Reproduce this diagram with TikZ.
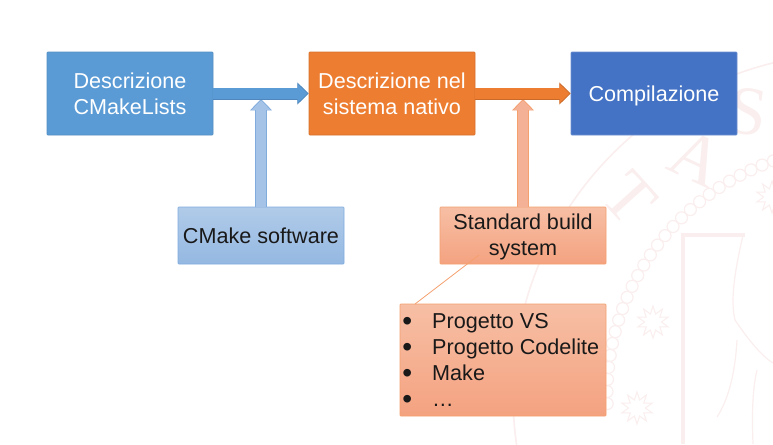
\documentclass[tikz,border=0pt]{standalone}
\usepackage{fontspec}
\setmainfont{Liberation Sans}
\newfontfamily\sealfont{Liberation Serif}
\usetikzlibrary{arrows.meta,shapes.geometric}
\definecolor{descrBlue}{HTML}{5B9BD5}
\definecolor{descrBlueDark}{HTML}{4F87BC}
\definecolor{softBlueTop}{HTML}{B1CBE9}
\definecolor{softBlueBot}{HTML}{94B8E2}
\definecolor{softBlueShaft}{HTML}{A4C3E7}
\definecolor{softBlueLine}{HTML}{7FABDD}
\definecolor{nativeOrange}{HTML}{ED7D31}
\definecolor{nativeOrangeDark}{HTML}{C96A2A}
\definecolor{softOrangeTop}{HTML}{F7BFA5}
\definecolor{softOrangeBot}{HTML}{F4A280}
\definecolor{softOrangeShaft}{HTML}{F5B196}
\definecolor{softOrangeLine}{HTML}{F4A06F}
\definecolor{compBlue}{HTML}{4472C4}
\definecolor{compBlueLine}{HTML}{6D8FCF}
\definecolor{sealPink}{HTML}{FAEEEE}
\newcommand{\listdot}{\raisebox{-1.6pt}{\scalebox{1.3}{\textbullet}}}
\tikzset{
  stagebox/.style={draw, text=white, minimum width=124.5pt, minimum height=62.25pt, inner sep=0pt, align=center, font=\fontsize{16.2}{19.5}\selectfont, rounded corners=.5pt},
  softblue/.style={draw=softBlueLine, top color=softBlueTop, bottom color=softBlueBot, text=black!90, minimum width=124.5pt, minimum height=42.75pt, inner sep=0pt, align=center, font=\fontsize{16.2}{19.5}\selectfont, rounded corners=.5pt},
  softorange/.style={softblue, draw=softOrangeLine, top color=softOrangeTop, bottom color=softOrangeBot},
  fatarrow/.style n args={2}{preaction={draw=#2, line width=9pt, shorten >=0pt, -{Triangle[width=16pt,length=8.5pt]}}, draw=#1, line width=7.8pt, shorten >=1pt, -{Triangle[width=14pt,length=7.4pt]}},
  sealmark/.style={text=sealPink, font=\sealfont\fontsize{52}{52}\selectfont, inner sep=0pt},
  sealstar/.style={star, star points=10, star point ratio=1.9, draw=sealPink, minimum size=24pt, inner sep=0pt, line width=.8pt}
}
\begin{document}
\begin{tikzpicture}[x=.75pt, y=-.75pt]
	\useasboundingbox (0,0) rectangle (773,444);
	% seal behind the boxes
	\begin{scope}
		\clip (0,0) rectangle (773,444);
		\draw[sealPink, line width=1.2pt] (855,395) circle (342);
		\foreach \ang in {178,180.8,...,252} {
			\draw[sealPink, line width=.9pt] (855,395) ++(\ang:248) circle (6);
		}
		\draw[sealPink, line width=3pt] (745,235) -- (683,235) -- (683,444);
		\draw[sealPink, line width=.9pt] (743,235) .. controls (735,270) and (730,300) .. (735,320) .. controls (745,335) and (760,355) .. (773,363);
		\draw[sealPink, line width=.9pt] (737,340) .. controls (735,375) and (728,400) .. (717,417);
		\draw[sealPink, line width=.9pt] (757,370) .. controls (752,390) and (752,420) .. (753,444);
		\node[sealmark, rotate=-48] (sealT) at (630,198) {T};
		\node[sealmark, rotate=-25] (sealA) at (697,158) {A};
		\node[sealmark, rotate=-8] (sealS) at (748,112) {S};
		\node[sealstar] (starA) at (653,322) {};
		\node[sealstar] (starB) at (637,408) {};
		\node[sealstar] (starC) at (772,197) {};
	\end{scope}
	% upper row
	\node[stagebox, fill=descrBlue, draw=descrBlueDark!70!descrBlue] (cmakelists) at (130,93.5) {Descrizione\\CMakeLists};
	\node[stagebox, fill=nativeOrange, draw=nativeOrangeDark!70!nativeOrange] (nativesys) at (392,93.5) {Descrizione nel\\sistema nativo};
	\node[stagebox, fill=compBlue, draw=compBlueLine] (compile) at (654,93.5) {\rule{0pt}{15pt}Compilazione};
	% lower row
	\node[softblue] (cmakesoft) at (261,235.5) {CMake software};
	\node[softorange] (buildsys) at (523,235.5) {\rule{0pt}{13.2pt}Standard build\\system};
	\node[softorange, minimum width=154.5pt, minimum height=84pt] (buildlist) at (503,360) {};
	\node[anchor=west, text=black!90, inner sep=0pt, font=\fontsize{16.2}{19.5}\selectfont] (listitems) at (402,362.5) {\begin{tabular}{@{}l@{\hspace{15.1pt}}l@{}}\listdot & Progetto VS\\\listdot & Progetto Codelite\\\listdot & Make\\\listdot & \dots\end{tabular}};
	% arrows
	\coordinate (blueJoin) at (261,99);
	\coordinate (orangeJoin) at (523,99);
	\coordinate (calloutTop) at (479,255);
	\coordinate (calloutEnd) at (415,304);
	\draw[fatarrow={softBlueShaft}{softBlueLine}] (cmakesoft.north) -- (blueJoin);
	\draw[fatarrow={softOrangeShaft}{softOrangeLine}] (buildsys.north) -- (orangeJoin);
	\draw[fatarrow={descrBlue}{descrBlueDark}] (cmakelists.east) -- (nativesys.west);
	\draw[fatarrow={nativeOrange}{nativeOrangeDark}] (nativesys.east) -- (compile.west);
	\draw[softOrangeLine, line width=.6pt] (calloutTop) -- (calloutEnd);
\end{tikzpicture}
\end{document}
